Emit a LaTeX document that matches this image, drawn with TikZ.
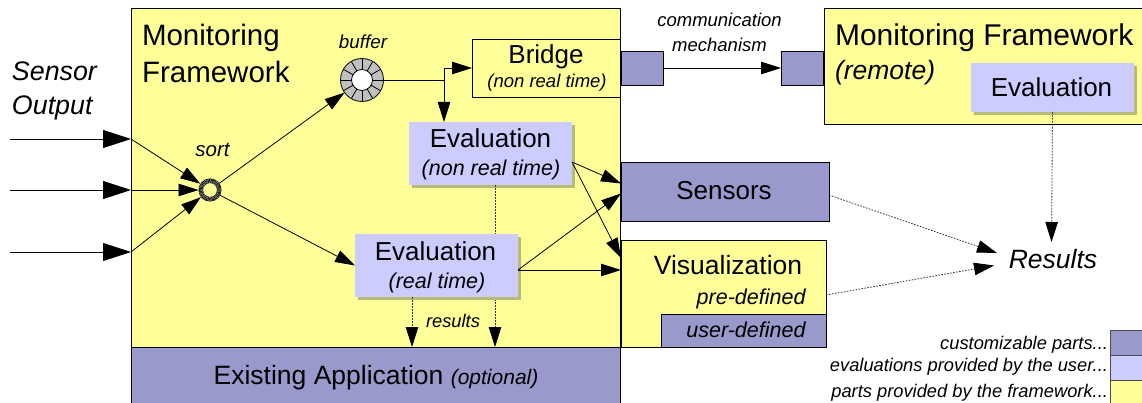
\documentclass[tikz,border=0pt]{standalone}
\usepackage{fontspec}
\setmainfont{Liberation Sans}
\usetikzlibrary{arrows.meta,calc}
\definecolor{fwyellow}{HTML}{FFFF99}
\definecolor{custpurple}{HTML}{9999CC}
\definecolor{evalblue}{HTML}{CCCCFF}
\definecolor{shadowc}{RGB}{185,185,120}
\definecolor{ringgray}{HTML}{C0C0C0}
\newcommand{\setfs}[1]{\fontsize{#1}{#1}\selectfont}
\begin{document}
\begin{tikzpicture}[x=1pt,y=-1pt,
  box/.style={draw=black, line width=0.9pt, inner sep=0pt, outer sep=0pt},
  fw/.style={box, fill=fwyellow},
  cust/.style={box, fill=custpurple},
  evalbox/.style={fill=evalblue, draw=none, inner sep=0pt, outer sep=0pt},
  txt/.style={inner sep=0pt, outer sep=0pt, anchor=base},
  arr/.style={line width=0.8pt, -{Triangle[length=20pt,width=12.5pt]}},
  bigarr/.style={line width=0.8pt, -{Triangle[length=28pt,width=18pt]}},
  dotarr/.style={line width=0.8pt, draw=black!80, dash pattern=on 1.6pt off 1.4pt, -{Triangle[length=20pt,width=12.5pt,color=black]}},
]
\useasboundingbox (0,0) rectangle (1142,403);
\clip (0,0) rectangle (1142,403);

% main framework and existing application
\node[fw, minimum width=489pt, minimum height=339pt, anchor=north west] (mf) at (131,8) {};
\node[cust, minimum width=489pt, minimum height=62pt, anchor=north west] (app) at (131,347) {};
\node[txt, anchor=base west, font=\setfs{29.5}] (mft1) at (142,46) {Monitoring};
\node[txt, anchor=base west, font=\setfs{29.5}] (mft2) at (142,83) {Framework};
\node[txt, font=\setfs{26.5}] (appt) at (376,384) {Existing Application {\setfs{21}\itshape (optional)}};

% sensor output label
\node[txt, anchor=base west, font=\setfs{26.8}\itshape] (so1) at (12,81) {Sensor};
\node[txt, anchor=base west, font=\setfs{26.8}\itshape] (so2) at (12,115) {Output};

% bridge
\node[fw, minimum width=148pt, minimum height=58pt, anchor=north west] (bridge) at (472,39) {};
\node[txt, font=\setfs{26}] (bridget) at (546,64) {Bridge};
\node[txt, font=\setfs{18.5}\itshape] (bridges) at (547,88) {(non real time)};
\node[cust, minimum width=42pt, minimum height=34pt, anchor=north west] (bsqL) at (621,51) {};
\node[cust, minimum width=42pt, minimum height=34pt, anchor=north west] (bsqR) at (781,51) {};
\node[txt, font=\setfs{18.5}\itshape] (comm1) at (719.5,27) {communication};
\node[txt, font=\setfs{18.5}\itshape] (comm2) at (719.5,52) {mechanism};

% remote framework
\node[fw, minimum width=330pt, minimum height=116pt, anchor=north west] (remote) at (824,8) {};
\node[txt, anchor=base west, font=\setfs{30}] (remt1) at (835,46) {Monitoring Framework};
\node[txt, anchor=base west, font=\setfs{26.5}\itshape] (remt2) at (835,80) {(remote)};
\fill[shadowc] (974,66) rectangle (1137,115);
\node[evalbox, minimum width=163pt, minimum height=49pt, anchor=north west] (reval) at (971,63) {};
\node[txt, font=\setfs{26}] (revalt) at (1051.5,97) {Evaluation};

% sensors and visualization
\node[cust, minimum width=208pt, minimum height=59pt, anchor=north west] (sensors) at (621,162) {};
\node[txt, font=\setfs{26}] (sensorst) at (724,200) {Sensors};
\node[fw, minimum width=205pt, minimum height=107pt, anchor=north west] (viz) at (621,240) {};
\node[cust, minimum width=164.5pt, minimum height=33pt, anchor=north west] (udef) at (661.5,314) {};
\node[txt, font=\setfs{26.5}] (vizt) at (728,274) {Visualization};
\node[txt, anchor=base east, font=\setfs{21.5}\itshape] (predef) at (805.5,304) {pre-defined};
\node[txt, anchor=base east, font=\setfs{21.5}\itshape] (userdef) at (805.5,337) {user-defined};

% evaluation (non real time)
\fill[shadowc] (412,125) rectangle (575,188);
\node[evalbox, minimum width=163pt, minimum height=63pt, anchor=north west] (eNRT) at (409,122) {};
\node[txt, font=\setfs{26}] (eNRTt) at (490.5,148) {Evaluation};
\node[txt, font=\setfs{21.5}\itshape] (eNRTs) at (491,176) {(non real time)};
\coordinate (d1) at ([xshift=4.5pt]eNRT.south);
\draw[dotarr] (d1) -- (d1 |- app.north);

% evaluation (real time)
\fill[shadowc] (358,237) rectangle (521,300);
\node[evalbox, minimum width=163pt, minimum height=63pt, anchor=north west] (eRT) at (355,234) {};
\node[txt, font=\setfs{26}] (eRTt) at (435.5,260.5) {Evaluation};
\node[txt, font=\setfs{21.5}\itshape] (eRTs) at (437,288) {(real time)};
\coordinate (d2) at ([xshift=-24.5pt]eRT.south);
\draw[dotarr] (d2) -- (d2 |- app.north);
\node[txt, font=\setfs{18.3}\itshape] (resl) at (453,327) {results};

% buffer ring
\node[circle, minimum size=43pt, inner sep=0pt, outer sep=0pt, fill=ringgray, draw=black, line width=0.8pt] (buffer) at (362,80) {};
\filldraw[fill=white, draw=black, line width=0.8pt] (buffer.center) circle[radius=10.5];
\foreach \a in {0,30,...,330}
  \draw[line width=0.8pt] ($(buffer.center)+(\a:10.5)$) -- ($(buffer.center)+(\a:21.5)$);
\node[txt, font=\setfs{18.8}\itshape] (bufl) at (363,49) {buffer};

% sort ring
\node[circle, minimum size=23pt, inner sep=0pt, outer sep=0pt] (sort) at (210,190) {};
\draw[line width=4.5pt] (sort.center) circle[radius=9.25];
\draw[line width=4pt, draw=black!45, dash pattern=on 0.5pt off 0.9pt] (sort.center) circle[radius=9.25];
\node[txt, font=\setfs{20.5}\itshape] (sortl) at (212.5,157) {sort};

% inputs
\coordinate (i1) at (10,139);
\coordinate (i2) at (10,190);
\coordinate (i3) at (10,252);
\foreach \i in {i1,i2,i3}{
  \draw[bigarr] (\i) -- (mf.west |- \i);
  \draw[arr] (mf.west |- \i) -- (sort);
}

% internal flow
\draw[arr] (sort) -- (buffer);
\draw[arr] (sort) -- (eRT.west);
\coordinate (split) at (444,80);
\draw[line width=0.8pt] (buffer.east) -- (split);
\draw[arr] (split) |- (bridge.west);
\draw[arr] (split) -- (split |- eNRT.north);
\coordinate (nrtout) at ([yshift=-8.5pt]eNRT.east);
\draw[arr] (nrtout) -- ([yshift=8pt]sensors.west);
\draw[arr] (nrtout) -- ([yshift=35.5pt]viz.west);
\coordinate (rtout) at ([yshift=-4.5pt]eRT.east);
\draw[arr] (rtout) -- ([yshift=-2pt]sensors.west);
\draw[arr] (rtout) -- (rtout -| viz.west);
\draw[arr] (bsqL.east) -- (bsqR.west);

% results
\node[txt, font=\setfs{26.5}\itshape] (results) at (1053,268) {Results};
\coordinate (r1) at (997,253);
\coordinate (r2) at (994,265.5);
\coordinate (r3) at (1051.5,242);
\draw[dotarr] ([yshift=-3.5pt]sensors.east) -- (r1);
\draw[dotarr] ([yshift=-1.5pt]viz.east) -- (r2);
\draw[dotarr] (reval.south) -- (r3);

% legend
\node[box, draw=black!70, fill=custpurple, minimum width=40pt, minimum height=25pt, anchor=north west] (lg1) at (1110,330) {};
\node[box, draw=black!70, fill=evalblue, minimum width=40pt, minimum height=25pt, anchor=north west] (lg2) at (1110,355) {};
\node[box, draw=black!70, fill=fwyellow, minimum width=40pt, minimum height=30pt, anchor=north west] (lg3) at (1110,380) {};
\node[txt, anchor=base east, font=\setfs{18.3}\itshape] (lgt1) at (1108,349) {customizable parts...};
\node[txt, anchor=base east, font=\setfs{18.3}\itshape] (lgt2) at (1108,371) {evaluations provided by the user...};
\node[txt, anchor=base east, font=\setfs{18.3}\itshape] (lgt3) at (1108,397) {parts provided by the framework...};
\end{tikzpicture}
\end{document}
